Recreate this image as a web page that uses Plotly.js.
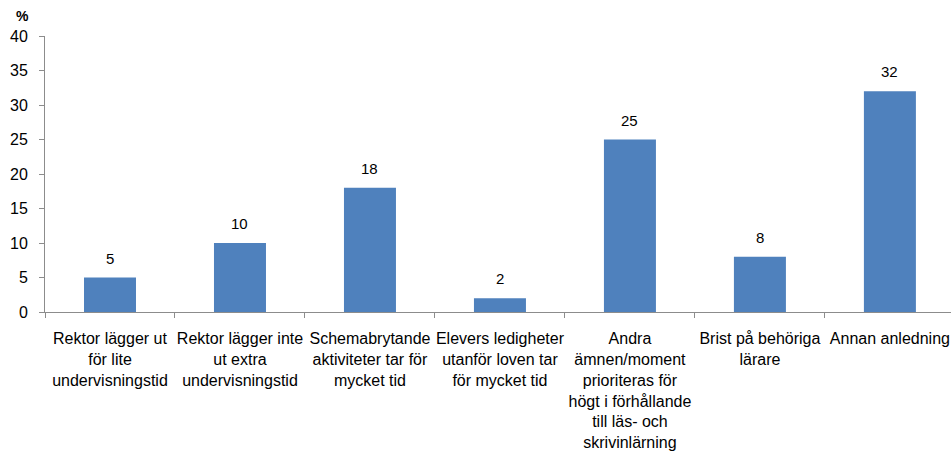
<!DOCTYPE html>
<html>
<head>
<meta charset="utf-8">
<script src="https://cdn.plot.ly/plotly-3.0.1.min.js"></script>
<style>html,body{margin:0;padding:0;background:#fff;}#chart{width:951px;height:452px;}</style>
</head>
<body>
<div id="chart"></div>
<script>
const categories = [
  "Rektor lägger ut<br>för lite<br>undervisningstid",
  "Rektor lägger inte<br>ut extra<br>undervisningstid",
  "Schemabrytande<br>aktiviteter tar för<br>mycket tid",
  "Elevers ledigheter<br>utanför loven tar<br>för mycket tid",
  "Andra<br>ämnen/moment<br>prioriteras för<br>högt i förhållande<br>till läs- och<br>skrivinlärning",
  "Brist på behöriga<br>lärare",
  "Annan anledning"
];
const values = [5, 10, 18, 2, 25, 8, 32];
const yTicks = [0, 5, 10, 15, 20, 25, 30, 35, 40];

const font = "Liberation Sans, Arial, sans-serif";
const trace = {
  type: "bar",
  x: categories,
  y: values,
  marker: {color: "#4F81BD"},
  width: 0.4,
  hoverinfo: "none"
};
const valueLabels = categories.map((c, i) => ({
  x: c, y: values[i], xref: "x", yref: "y",
  text: String(values[i]), showarrow: false,
  yanchor: "bottom", yshift: 9,
  font: {family: font, size: 15, color: "#000"}
}));
const layout = {
  width: 951, height: 452,
  margin: {l: 45, r: 0, t: 36, b: 140},
  paper_bgcolor: "#fff", plot_bgcolor: "#fff",
  showlegend: false,
  xaxis: {
    type: "category",
    range: [-0.5, 6.47],
    tickson: "boundaries",
    ticks: "outside", ticklen: 5, tickcolor: "#8c8c8c",
    showline: true, linecolor: "#8c8c8c", linewidth: 1,
    showgrid: false, zeroline: false,
    tickangle: 0,
    ticklabelstandoff: 12,
    tickfont: {family: font, size: 16, color: "#000"},
    automargin: false
  },
  yaxis: {
    range: [0, 40],
    tickvals: yTicks,
    ticktext: yTicks.map(String),
    ticks: "outside", ticklen: 5, tickcolor: "#8c8c8c",
    showline: true, linecolor: "#8c8c8c", linewidth: 1,
    showgrid: false, zeroline: false,
    ticklabelstandoff: 8,
    tickfont: {family: font, size: 16, color: "#000"},
    automargin: false
  },
  annotations: valueLabels.concat([{
    text: "<b>%</b>", xref: "paper", yref: "paper",
    x: -0.034, y: 1.0, xanchor: "left", yanchor: "bottom",
    yshift: 10,
    showarrow: false, font: {family: font, size: 14, color: "#000"}
  }])
};
Plotly.newPlot("chart", [trace], layout, {displayModeBar: false, staticPlot: true});
</script>
</body>
</html>
